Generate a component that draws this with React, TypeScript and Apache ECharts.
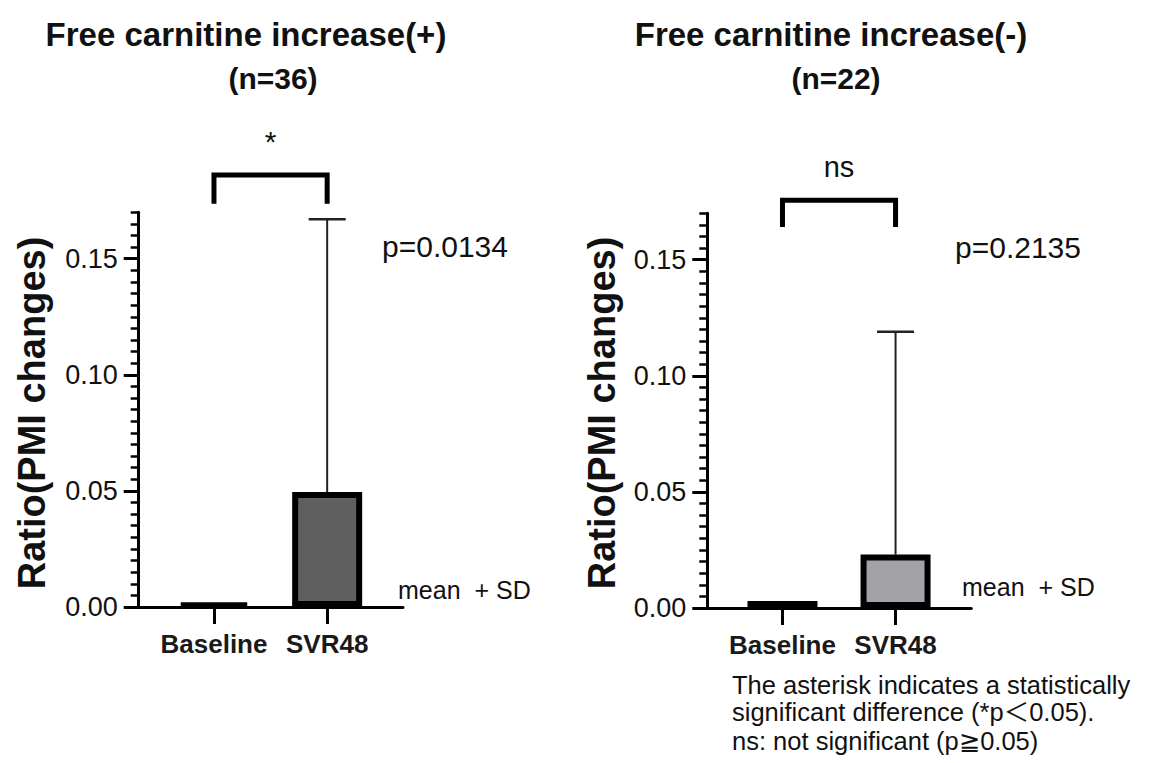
import React, { useEffect, useRef } from "react";
import * as echarts from "echarts";

const CATEGORIES = ["Baseline", "SVR48"];
const CAT_POS = [1, 2];
const TITLES = ["Free carnitine increase(+)", "Free carnitine increase(-)"];
const N_LABELS = ["(n=36)", "(n=22)"];
const MEAN_LEFT = [0.0015, 0.0495];
const SD_LEFT = [0, 0.1175];
const MEAN_RIGHT = [0.003, 0.023];
const SD_RIGHT = [0, 0.096];
const P_VALUES = ["p=0.0134", "p=0.2135"];
const SIG_LABELS = ["*", "ns"];
const BRACKET_TOP = [0.1861, 0.1756];
const BRACKET_LEG = [0.1737, 0.1641];
const Y_TICKS = [0, 0.05, 0.1, 0.15];
const Y_MAX = 0.17;
const FILLS = ["#5f5f5f", "#a3a3a7"];
const Y_NAME = "Ratio(PMI changes)";
const NOTE_LINES = [
  "The asterisk indicates a statistically",
  "significant difference (*p＜0.05).",
  "ns: not significant (p≧0.05)",
];

const FONT = '"Liberation Sans", Arial, "Noto Sans CJK JP", sans-serif';
const NOTE_FONT = '"Liberation Sans", Arial, "DejaVu Sans", "Noto Sans CJK JP", sans-serif';

export default function App() {
  const ref = useRef<HTMLDivElement>(null);
  useEffect(() => {
    if (!ref.current) return;
    const chart = echarts.init(ref.current, null, { renderer: "svg" });

    const grids = [
      { left: 138.7, top: 212.3, width: 264.3, height: 394.7 },
      { left: 707.3, top: 213.3, width: 264, height: 394.7 },
    ];
    const means = [MEAN_LEFT, MEAN_RIGHT];
    const sds = [SD_LEFT, SD_RIGHT];

    const xAxis: any[] = [];
    const yAxis: any[] = [];
    const series: any[] = [];

    [0, 1].forEach((i) => {
      xAxis.push({
        gridIndex: i,
        type: "value",
        min: 0.335,
        max: 2.67,
        axisLine: { show: true, onZero: false, lineStyle: { color: "#000", width: 3 } },
        splitLine: { show: false },
        axisTick: { show: true, customValues: CAT_POS, length: 17, lineStyle: { color: "#000", width: 3 } },
        axisLabel: {
          customValues: CAT_POS,
          formatter: (v: number) => CATEGORIES[Math.round(v) - 1] || "",
          margin: 24,
          fontSize: 26,
          fontWeight: "bold",
          fontFamily: FONT,
          color: "#1a1a1a",
        },
      });
      yAxis.push({
        gridIndex: i,
        type: "value",
        min: 0,
        max: Y_MAX,
        position: "left",
        axisLine: { show: true, lineStyle: { color: "#000", width: 3 } },
        axisTick: { show: true, customValues: Y_TICKS, length: 15, lineStyle: { color: "#000", width: 3 } },
        axisLabel: {
          customValues: Y_TICKS,
          formatter: (v: number) => v.toFixed(2),
          margin: 21,
          fontSize: 27,
          fontFamily: FONT,
          color: "#111",
        },
        splitLine: { show: false },
      });
      yAxis.push({
        gridIndex: i,
        type: "value",
        min: 0,
        max: Y_MAX,
        interval: 0.005,
        position: "left",
        axisLine: { show: false },
        axisTick: { show: true, length: 8, lineStyle: { color: "#000", width: 2.5 } },
        axisLabel: { show: false },
        splitLine: { show: false },
      });

      series.push({
        type: "bar",
        xAxisIndex: i,
        yAxisIndex: i * 2,
        barWidth: 70,
        data: CAT_POS.map((x, k) => [x, means[i][k]]),
        itemStyle: { color: FILLS[i], borderColor: "#000", borderWidth: 6 },
        z: 3,
      });
      series.push({
        type: "custom",
        xAxisIndex: i,
        yAxisIndex: i * 2,
        clip: false,
        data: CAT_POS.map((x, k) => [x, means[i][k], sds[i][k]]),
        renderItem: (params: any, api: any) => {
          const x = api.value(0);
          const m = api.value(1);
          const sd = api.value(2);
          if (!sd) return { type: "group", children: [] };
          const p0 = api.coord([x, m]);
          const p1 = api.coord([x, m + sd]);
          return {
            type: "group",
            children: [
              { type: "line", shape: { x1: p0[0], y1: p0[1], x2: p1[0], y2: p1[1] }, style: { stroke: "#222", lineWidth: 2 } },
              { type: "line", shape: { x1: p1[0] - 18.5, y1: p1[1], x2: p1[0] + 18.5, y2: p1[1] }, style: { stroke: "#222", lineWidth: 2.5 } },
            ],
          };
        },
        z: 2,
      });
      series.push({
        type: "custom",
        xAxisIndex: i,
        yAxisIndex: i * 2,
        clip: false,
        data: [[CAT_POS[0], CAT_POS[1], BRACKET_TOP[i], BRACKET_LEG[i]]],
        renderItem: (params: any, api: any) => {
          const a = api.coord([api.value(0), api.value(2)]);
          const b = api.coord([api.value(1), api.value(2)]);
          const la = api.coord([api.value(0), api.value(3)]);
          const lb = api.coord([api.value(1), api.value(3)]);
          return {
            type: "group",
            children: [
              {
                type: "polyline",
                shape: { points: [[la[0], la[1]], [a[0], a[1]], [b[0], b[1]], [lb[0], lb[1]]] },
                style: { stroke: "#000", lineWidth: 5, fill: null, lineJoin: "miter" },
              },
              {
                type: "text",
                x: (a[0] + b[0]) / 2,
                y: a[1] - 33,
                style: {
                  text: SIG_LABELS[i],
                  fontSize: i === 0 ? 30 : 29,
                  fontFamily: FONT,
                  fill: "#111",
                  align: "center",
                  verticalAlign: "middle",
                },
              },
            ],
          };
        },
        z: 4,
      });
    });

    const graphic: any[] = [];
    const titleX = [246, 831];
    const nX = [273, 836];
    const nameX = [32, 602];
    const pPos = [[382, 246], [955, 247]];
    const msPos = [[398, 590], [962, 587]];
    [0, 1].forEach((i) => {
      graphic.push({
        type: "text",
        x: titleX[i],
        y: 34,
        style: { text: TITLES[i], fontSize: 33, fontWeight: "bold", fontFamily: FONT, fill: "#111", align: "center", verticalAlign: "middle" },
      });
      graphic.push({
        type: "text",
        x: nX[i],
        y: 78,
        style: { text: N_LABELS[i], fontSize: 30, fontWeight: "bold", fontFamily: FONT, fill: "#111", align: "center", verticalAlign: "middle" },
      });
      graphic.push({
        type: "text",
        x: nameX[i],
        y: 413,
        rotation: Math.PI / 2,
        style: { text: Y_NAME, fontSize: 38, fontWeight: "bold", fontFamily: FONT, fill: "#111", align: "center", verticalAlign: "middle" },
      });
      graphic.push({
        type: "text",
        x: pPos[i][0],
        y: pPos[i][1],
        style: { text: P_VALUES[i], fontSize: 30, fontFamily: FONT, fill: "#111", align: "left", verticalAlign: "middle" },
      });
      graphic.push({
        type: "text",
        x: msPos[i][0],
        y: msPos[i][1],
        style: { text: "mean  + SD", fontSize: 25, fontFamily: FONT, fill: "#111", align: "left", verticalAlign: "middle" },
      });
    });
    const noteY = [685, 712, 741];
    NOTE_LINES.forEach((t, k) => {
      graphic.push({
        type: "text",
        x: 732,
        y: noteY[k],
        style: { text: t, fontSize: 25.5, lineHeight: 25, fontFamily: NOTE_FONT, fill: "#111", align: "left", verticalAlign: "middle" },
      });
    });

    chart.setOption({
      animation: false,
      backgroundColor: "#ffffff",
      grid: grids.map((g) => ({ ...g, containLabel: false })),
      xAxis,
      yAxis,
      series,
      graphic,
    });
    return () => chart.dispose();
  }, []);

  return (
    <div
      ref={ref}
      style={{ position: "fixed", left: 0, top: 0, width: 1149, height: 763, background: "#fff" }}
    />
  );
}
